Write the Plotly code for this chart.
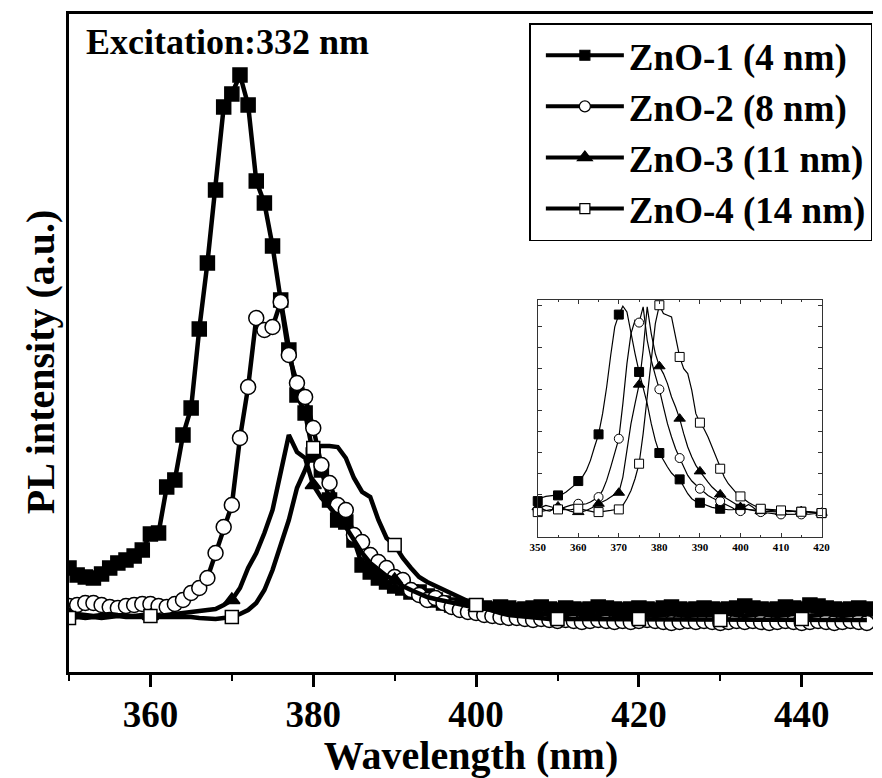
import numpy as np
import plotly.graph_objects as go

# ---------------- main spectra (1 nm step, arbitrary units) ----------------
wavelength = list(range(350, 449))

zno1 = [104, 97, 95, 94, 98, 104, 109, 112, 116, 122,
        138, 139, 185, 192, 237, 264, 343, 409, 482, 565,
        578, 597, 567, 491, 469, 426, 372, 322, 277, 259,
        217, 202, 172, 152, 150, 132, 107, 100, 94, 90,
        86, 84, 80, 80, 76, 72, 69, 67, 66, 64,
        66,
        64, 63, 65, 64, 62, 63, 64, 65, 63, 62,
        64, 63, 62, 63, 65, 64, 63, 62, 63, 64,
        63, 62, 64, 65, 63, 62, 63, 64, 63, 62,
        63, 64, 66, 64, 63, 62, 63, 65, 64, 63,
        67, 66, 64, 63, 62, 63, 64, 63]

zno2 = [66, 67, 69, 69, 67, 65, 64, 66, 67, 68,
        68, 66, 65, 68, 72, 79, 84, 94, 119, 145,
        167, 234, 285, 354, 342, 345, 370, 317, 289, 275,
        244, 207, 189, 167, 162, 137, 130, 117, 110, 104,
        95, 92, 82, 77, 72, 74, 69, 65, 62, 60,
        59,
        57, 56, 55, 54, 54, 53, 52, 53, 52, 51,
        52, 51, 50, 51, 52, 51, 50, 51, 50, 51,
        52, 51, 50, 49, 50, 51, 50, 51, 50, 49,
        50, 51, 50, 51, 50, 49, 50, 51, 50, 49,
        50, 51, 50, 49, 50, 51, 50, 49]

zno3 = [57, 58, 57, 56, 57, 58, 57, 56, 56, 57,
        56, 56, 57, 58, 58, 59, 60, 61, 63, 67,
        72, 84, 104, 119, 139, 162, 200, 237, 220, 214,
        187, 174, 165, 155, 145, 132, 119, 109, 102, 96,
        92, 86, 82, 78, 75, 73, 71, 69, 68, 66,
        65,
        63, 62, 61, 60, 59, 59, 58, 58, 57, 58,
        57, 58, 57, 56, 57, 58, 57, 56, 57, 58,
        57, 56, 57, 58, 57, 56, 57, 57, 56, 57,
        58, 57, 56, 57, 58, 57, 56, 57, 58, 57,
        56, 57, 58, 57, 56, 57, 58, 57]

zno4 = [54, 55, 54, 55, 54, 55, 56, 55, 55, 56,
        56, 56, 55, 55, 56, 55, 54, 53, 53, 54,
        55, 58, 62, 69, 82, 102, 127, 152, 184, 202,
        224, 226, 226, 225, 214, 194, 180, 175, 152, 134,
        127, 114, 104, 95, 90, 86, 82, 79, 75, 71,
        67,
        64, 61, 59, 57, 56, 55, 54, 54, 53, 53,
        53, 52, 53, 52, 53, 53, 52, 53, 52, 53,
        52, 53, 52, 53, 52, 52, 53, 52, 53, 52,
        53, 52, 53, 52, 53, 52, 52, 53, 52, 53,
        52, 53, 52, 53, 52, 53, 52, 52]

# ---------------- inset: normalised spectra 350-420 nm ----------------
inset_wavelength = list(range(350, 421))

inset1 = [108, 118, 122, 123, 124, 125, 128, 135, 144, 155,
          168, 180, 200, 230, 270, 308, 370, 450, 545, 630,
          667, 692, 675, 610, 550, 495, 450, 400, 340, 290,
          252, 230, 210, 192, 180, 173, 150, 130, 115, 107,
          103, 98, 93, 89, 87, 85, 83, 82, 82, 84,
          85,
          84, 82, 81, 80, 82, 83, 81, 79, 78, 78,
          80, 79, 77, 75, 76, 77, 75, 73, 74, 72]

inset2 = [80, 90, 95, 92, 88, 85, 87, 92, 95, 98,
          100, 98, 100, 105, 112, 120, 140, 170, 210, 250,
          295, 400, 520, 610, 650, 643, 690, 590, 530, 485,
          443, 390, 340, 300, 265, 237, 210, 185, 168, 155,
          145, 135, 125, 118, 112, 108, 102, 95, 88, 80,
          78,
          90, 98, 90, 80, 75, 73, 72, 70, 69, 68,
          68, 69, 68, 67, 68, 68, 69, 70, 71, 72]

inset3 = [90, 85, 80, 78, 85, 92, 88, 82, 78, 75,
          75, 76, 80, 85, 92, 100, 105, 112, 120, 128,
          133, 180, 260, 340, 400, 457, 560, 690, 610, 550,
          512, 490, 460, 420, 390, 355, 310, 270, 240, 215,
          197, 180, 165, 150, 138, 128, 120, 112, 105, 98,
          90,
          85, 82, 80, 78, 78, 77, 76, 75, 74, 75,
          76, 77, 78, 79, 78, 77, 76, 75, 74, 73]

inset4 = [75, 78, 80, 82, 83, 83, 82, 81, 82, 84,
          85, 83, 80, 77, 75, 75, 76, 78, 80, 82,
          83, 95, 115, 140, 175, 220, 310, 420, 540, 640,
          695, 670, 665, 660, 600, 540, 505, 490, 440, 370,
          343, 325, 300, 270, 235, 205, 180, 160, 145, 132,
          122,
          112, 104, 97, 90, 85, 84, 83, 82, 81, 80,
          79, 78, 78, 77, 76, 75, 75, 74, 73, 72]

names = ["ZnO-1 (4 nm)", "ZnO-2 (8 nm)", "ZnO-3 (11 nm)", "ZnO-4 (14 nm)"]
x_ticks = [360, 380, 400, 420, 440]
inset_ticks = [350, 360, 370, 380, 390, 400, 410, 420]

SERIF = "Liberation Serif"
BLACK = "black"

# marker style per sample: symbol, fill, main size, legend size, inset size
styles = [
    dict(symbol="square", fill=BLACK, size=14, leg=10, ins=9),
    dict(symbol="circle", fill="white", size=15, leg=11, ins=9),
    dict(symbol="triangle-up", fill=BLACK, size=14, leg=13, ins=10),
    dict(symbol="square", fill="white", size=13, leg=10, ins=9),
]

main_series = [zno1, zno2, zno3, zno4]
inset_series = [inset1, inset2, inset3, inset4]
# ZnO-1 and ZnO-2 show a symbol on every point, ZnO-3/ZnO-4 every 10 nm
marker_every = [1, 1, 10, 10]

fig = go.Figure()

wl = np.array(wavelength)
for ys, st, every in zip(main_series, styles, marker_every):
    ys = np.array(ys)
    mk = dict(symbol=st["symbol"], size=st["size"], color=st["fill"],
              line=dict(color=BLACK, width=1.5))
    if every == 1:
        fig.add_trace(go.Scatter(x=wl, y=ys, mode="lines+markers",
                                 line=dict(color=BLACK, width=4.5),
                                 marker=mk, showlegend=False))
    else:
        fig.add_trace(go.Scatter(x=wl, y=ys, mode="lines",
                                 line=dict(color=BLACK, width=4.5),
                                 showlegend=False))
        sel = (wl - 350) % every == 0
        fig.add_trace(go.Scatter(x=wl[sel], y=ys[sel], mode="markers",
                                 marker=mk, showlegend=False))

# legend entries
for name, st in zip(names, styles):
    fig.add_trace(go.Scatter(x=[None], y=[None], mode="lines+markers", name=name,
                             line=dict(color=BLACK, width=4),
                             marker=dict(symbol=st["symbol"], size=st["leg"],
                                         color=st["fill"],
                                         line=dict(color=BLACK, width=1.2))))

# inset spectra
iwl = np.array(inset_wavelength)
for ys, st in zip(inset_series, styles):
    ys = np.array(ys)
    fig.add_trace(go.Scatter(x=iwl, y=ys, mode="lines", xaxis="x2", yaxis="y2",
                             line=dict(color=BLACK, width=1.2),
                             showlegend=False, cliponaxis=False))
    sel = (iwl - 350) % 5 == 0
    fig.add_trace(go.Scatter(x=iwl[sel], y=ys[sel], mode="markers", xaxis="x2", yaxis="y2",
                             marker=dict(symbol=st["symbol"], size=st["ins"],
                                         color=st["fill"],
                                         line=dict(color=BLACK, width=1)),
                             showlegend=False, cliponaxis=False))

fig.update_layout(
    width=882, height=778,
    margin=dict(l=69, r=0, t=14, b=106),
    paper_bgcolor="white", plot_bgcolor="white",
    font=dict(family=SERIF, color=BLACK),
    xaxis=dict(
        range=[350, 448.75], tickvals=x_ticks,
        showline=True, linewidth=3, linecolor=BLACK, mirror=True,
        ticks="outside", ticklen=12, tickwidth=2.5, tickcolor=BLACK,
        minor=dict(dtick=10, tick0=350, ticks="outside", ticklen=6,
                   tickwidth=2, tickcolor=BLACK),
        showgrid=False, zeroline=False, ticklabelstandoff=-4,
        tickfont=dict(family=SERIF, size=37, weight="bold"),
        title=dict(text="Wavelength (nm)", standoff=10,
                   font=dict(family=SERIF, size=40, weight="bold")),
    ),
    yaxis=dict(
        range=[0, 658], showline=True, linewidth=3, linecolor=BLACK,
        mirror=False, ticks="", showticklabels=False,
        showgrid=False, zeroline=False,
    ),
    xaxis2=dict(
        domain=[0.583, 0.936], anchor="y2", range=[350, 420],
        tickvals=inset_ticks,
        showline=True, linewidth=1, linecolor="#333", mirror="ticks",
        ticks="inside", ticklen=4, tickwidth=1, tickcolor="#333",
        minor=dict(dtick=5, ticks="inside", ticklen=2, tickcolor="#333"),
        showgrid=False, zeroline=False,
        tickfont=dict(family=SERIF, size=11, weight="bold"),
    ),
    yaxis2=dict(
        domain=[0.205, 0.565], anchor="x2", range=[0, 710],
        showline=True, linewidth=1, linecolor="#333", mirror="ticks",
        ticks="inside", ticklen=4, tickwidth=1, tickcolor="#333",
        tick0=65, dtick=63, showticklabels=False,
        showgrid=False, zeroline=False,
    ),
    legend=dict(
        x=0.5726, y=0.986, xanchor="left", yanchor="top",
        bgcolor="white", bordercolor=BLACK, borderwidth=1.5,
        font=dict(family=SERIF, size=37, weight="bold", color=BLACK),
        itemwidth=78, tracegroupgap=0, indentation=10,
    ),
    annotations=[
        dict(text="Excitation:332 nm", xref="paper", yref="paper",
             x=0.019, y=0.957, xanchor="left", yanchor="middle", showarrow=False,
             font=dict(family=SERIF, size=36, weight="bold", color=BLACK)),
        dict(text="PL intensity (a.u.)", xref="paper", yref="paper",
             x=-0.036, y=0.471, xanchor="center", yanchor="middle",
             textangle=-90, showarrow=False,
             font=dict(family=SERIF, size=40, weight="bold", color=BLACK)),
    ],
)

fig.write_html("out.html")
